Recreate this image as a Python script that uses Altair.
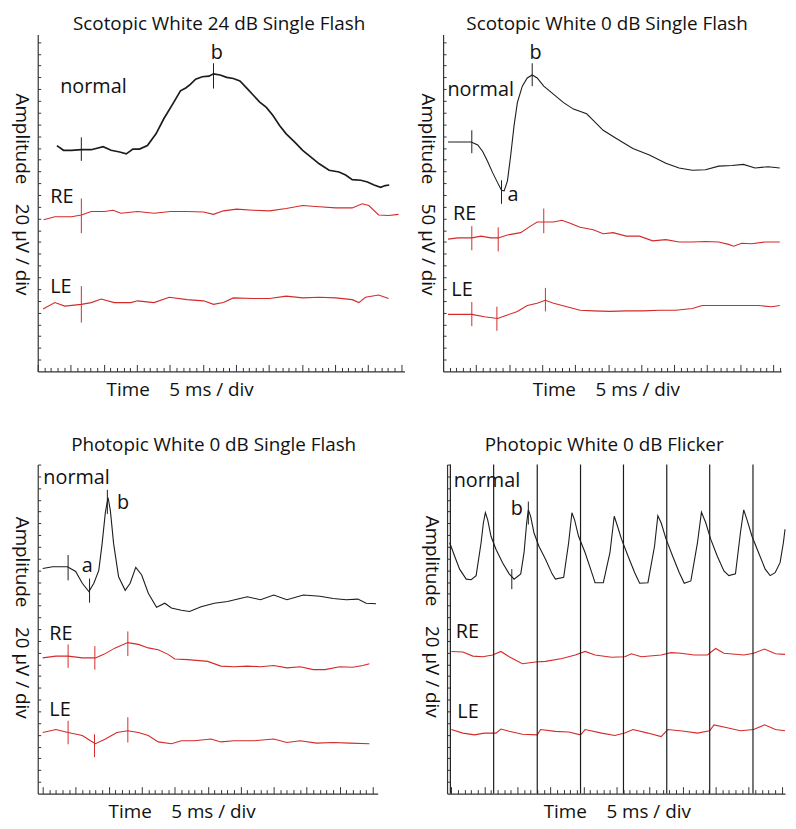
import altair as alt
import pandas as pd

FONT = "Open Sans"
BLACK = "#1c1c1c"
RED = "#d42a2a"
AXIS = "#333333"

# ---------------- Panel 1: Scotopic White 24 dB Single Flash (time ms, amplitude in div units)
P1_NORMAL = [(14.5, 19.2), (19.5, 18.8), (25.5, 18.8), (33, 18.85), (40.5, 18.85), (49.5, 19.1), (55.5, 18.8),
             (62, 18.65), (67, 18.5), (72, 18.9), (77, 18.9), (83, 19.2), (89.5, 20.2), (95.5, 21.5), (102, 22.7),
             (108, 23.85), (112, 24.1), (115.5, 24.4), (119.5, 24.85), (124.5, 25.05), (129.5, 25.1), (133, 25.3),
             (138, 25.2), (143, 25.0), (148, 24.9), (153, 24.7), (158, 24.1), (163, 23.5), (168, 22.9), (173, 22.45),
             (178, 21.75), (183, 20.9), (188, 20.2), (194.5, 19.5), (200.5, 18.8), (207, 18.2), (213, 17.65),
             (220.5, 17.1), (228, 16.95), (233, 16.7), (238, 16.3), (244.5, 16.25), (249.5, 16.1), (254.5, 15.85),
             (259.5, 15.65), (263, 15.8), (266, 15.85)]
P1_RE = [(4.5, 12.9), (13, 13.15), (25.5, 13.15), (33, 13.3), (40.5, 13.6), (50.5, 13.6), (57, 13.7), (63, 13.45),
         (75.5, 13.6), (88, 13.45), (100.5, 13.6), (113, 13.6), (125.5, 13.55), (133, 13.35), (140.5, 13.65),
         (150.5, 13.8), (163, 13.7), (175.5, 13.65), (188, 13.85), (200.5, 14.1), (213, 14.0), (225.5, 13.9),
         (238, 13.9), (245.5, 14.25), (250.5, 14.1), (258, 13.3), (265.5, 13.25), (273, 13.35)]
P1_LE = [(4, 5.3), (13, 5.85), (20.5, 5.55), (33, 5.7), (40.5, 5.85), (48, 6.15), (58, 5.85), (70.5, 5.85),
         (75.5, 6.0), (88, 5.85), (99.5, 6.3), (113, 6.1), (125.5, 6.0), (133, 5.7), (140.5, 5.85), (148, 6.25),
         (163, 6.2), (175.5, 6.2), (188, 6.4), (200.5, 6.25), (213, 6.3), (225.5, 6.25), (238, 6.1), (243, 5.85),
         (248, 6.3), (258, 6.5), (265.5, 6.2)]
P1_MARKS = [("normal", 33, 17.9, 19.9), ("normal", 133, 24.05, 26.2),
            ("RE", 33, 11.75, 14.7), ("LE", 33, 4.15, 7.25)]
P1_LABELS = [("normal", 17, 23.7), ("b", 131, 26.55), ("RE", 9.4, 14.3), ("LE", 9.4, 6.7)]

# ---------------- Panel 2: Scotopic White 0 dB Single Flash
P2_NORMAL = [(3.75, 19.5), (21.25, 19.5), (26.25, 19.25), (30, 18.7), (33.75, 17.85), (37.5, 16.9), (41.25, 16.05),
             (44.25, 15.4), (46.25, 15.35), (48.75, 16.2), (51.25, 18.4), (53.75, 20.9), (56.25, 22.85), (60, 24.25),
             (63.75, 24.95), (67.5, 25.2), (71.25, 24.95), (76.25, 24.25), (83.75, 23.55), (91.25, 22.85),
             (98.75, 22.3), (108.75, 21.9), (113.75, 21.35), (121.25, 20.5), (131.25, 19.8), (143.75, 18.95),
             (156.25, 18.4), (168.75, 17.7), (178.75, 17.3), (188.75, 17.1), (198.75, 17.15), (208.75, 17.45),
             (218.75, 17.5), (227.5, 17.6), (236.25, 17.3), (246.25, 17.4), (255, 17.3)]
P2_RE = [(3.75, 11.25), (11.25, 11.35), (21.75, 11.35), (28.75, 11.5), (36.25, 11.35), (41.75, 11.35), (48.75, 11.6),
         (58.75, 11.8), (66.25, 12.35), (71.25, 12.7), (76.25, 12.7), (83.75, 12.7), (90, 12.85), (96.25, 12.6),
         (103.75, 12.25), (113.75, 12.05), (121.25, 11.7), (128.75, 11.8), (138.75, 11.5), (148.75, 11.5),
         (158.75, 11.1), (168.75, 11.2), (178.75, 11.0), (188.75, 11.0), (198.75, 11.05), (208.75, 11.0),
         (216.25, 10.8), (220, 10.65), (226.25, 10.9), (233.75, 10.85), (243.75, 11.0), (255, 11.0)]
P2_LE = [(3.75, 4.85), (21.75, 4.85), (31.25, 4.65), (41.25, 4.5), (48.75, 4.8), (56.25, 5.1), (63.75, 5.6),
         (71.25, 5.8), (77.5, 6.05), (83.75, 5.8), (93.75, 5.5), (103.75, 5.2), (113.75, 5.15), (126.25, 5.1),
         (138.75, 5.15), (151.25, 5.15), (163.75, 5.2), (176.25, 5.2), (188.75, 5.35), (196.25, 5.6),
         (208.75, 5.6), (226.25, 5.6), (238.75, 5.6), (248.75, 5.5), (255, 5.6)]
P2_MARKS = [("normal", 21.75, 18.55, 20.5), ("normal", 44.25, 14.25, 16.25), ("normal", 67.5, 24.25, 26.2),
            ("RE", 21.75, 10.3, 12.35), ("RE", 41.75, 10.2, 12.25), ("RE", 76.25, 11.75, 13.85),
            ("LE", 21.75, 3.85, 5.9), ("LE", 40.75, 3.45, 5.5), ("LE", 77.5, 5.1, 7.1)]
P2_LABELS = [("normal", 3.25, 23.4), ("a", 48.75, 14.5), ("b", 65.5, 26.55), ("RE", 7.5, 12.85), ("LE", 6.25, 6.45)]

# ---------------- Panel 3: Photopic White 0 dB Single Flash
P3_NORMAL = [(0, 19.15), (7.5, 19.3), (18.75, 19.3), (25, 18.9), (30, 17.9), (35, 17.2), (38.75, 17.9), (42.5, 19.0),
             (45, 21.25), (47.5, 23.95), (49.5, 25.2), (51.25, 24.1), (53.75, 21.25), (57.5, 18.45), (62.5, 17.3),
             (66.25, 17.9), (70.5, 19.25), (75, 18.6), (80, 17.05), (86.25, 15.85), (92.5, 16.2), (97.5, 15.8),
             (105, 15.6), (111.25, 15.5), (120, 15.9), (130, 16.2), (140, 16.35), (155, 16.75), (165, 16.5),
             (175, 16.9), (185, 16.5), (197.5, 16.9), (210, 16.8), (220, 16.6), (230, 16.5), (238.75, 16.55),
             (245, 16.2), (252.5, 16.15)]
P3_RE = [(0, 11.55), (10, 11.7), (19.25, 11.7), (30, 11.55), (40, 11.55), (46.25, 11.85), (55, 12.4), (64.5, 12.85),
         (72.5, 12.7), (80, 12.4), (87.5, 12.25), (95, 11.85), (100, 11.45), (110, 11.4), (125, 11.25), (135, 10.85),
         (145, 10.8), (155, 10.85), (165, 10.8), (175, 10.9), (185, 10.7), (195, 10.8), (205, 10.55), (213.75, 10.55),
         (225, 10.8), (235, 10.75), (242.5, 10.9), (247.5, 11.05)]
P3_LE = [(0, 5.2), (10, 5.45), (19.25, 5.2), (30, 4.95), (36.25, 4.5), (40, 4.25), (47.5, 4.65), (56.25, 5.2),
         (64.5, 5.35), (72.5, 5.2), (80, 4.95), (87.5, 4.4), (97.5, 4.25), (105, 4.5), (115, 4.5), (127.5, 4.65),
         (135, 4.4), (145, 4.5), (160, 4.5), (175, 4.65), (185, 4.35), (195, 4.5), (207.5, 4.3), (220, 4.35),
         (232.5, 4.3), (247.5, 4.25)]
P3_MARKS = [("normal", 19.25, 18.15, 20.3), ("normal", 35.5, 16.25, 18.3), ("normal", 49, 23.8, 25.85),
            ("RE", 19.25, 10.7, 12.7), ("RE", 39.5, 10.55, 12.55), ("RE", 64.5, 11.7, 13.8),
            ("LE", 19.25, 4.2, 6.2), ("LE", 39.25, 3.1, 5.05), ("LE", 64.5, 4.35, 6.5)]
P3_LABELS = [("normal", 0.5, 26.35), ("a", 29.5, 18.9), ("b", 56.25, 24.2), ("RE", 5, 13.1), ("LE", 5, 6.6)]

# ---------------- Panel 4: Photopic White 0 dB Flicker
P4_NORMAL = [(-1.25, 21.35), (2.5, 20.2), (6.25, 19.1), (11.25, 18.25), (15, 18.2), (18.75, 18.55), (22.5, 21.35),
             (24.25, 23.05), (25.75, 23.9), (27.5, 23.3), (30, 21.9), (33.75, 20.8), (38.75, 19.65), (43.75, 18.7),
             (47.5, 18.25), (52.5, 18.7), (55, 20.5), (57, 23.05), (58.25, 24.15), (60, 23.6), (62.5, 22.2),
             (66.25, 21.05), (71.25, 19.95), (76.25, 18.7), (78.75, 18.25), (85, 18.4), (88.75, 21.35),
             (91.25, 23.9), (93.25, 23.3), (96.25, 21.9), (101.25, 20.5), (106.25, 18.8), (108.75, 17.95),
             (115, 17.95), (120, 20.5), (123.25, 23.6), (125.75, 22.75), (128.75, 21.65), (133.75, 20.2),
             (138.75, 18.8), (142.5, 17.9), (148.75, 17.95), (153.75, 21.05), (156.25, 23.65), (158.75, 23.05),
             (162.5, 21.65), (167.5, 20.2), (172.5, 18.8), (176.25, 17.9), (181.25, 18.1), (186.25, 21.35),
             (189.25, 23.95), (192.5, 23.05), (196.25, 21.65), (201.25, 20.2), (206.25, 18.95), (210, 18.55),
             (215, 18.7), (218.75, 22.2), (221.25, 24.15), (223.75, 23.3), (227.5, 21.9), (232.5, 20.5),
             (237.5, 19.1), (241.25, 18.55), (245, 18.8), (248.75, 19.65), (251.25, 21.35), (252.5, 22.5)]
P4_RE = [(0, 12.1), (8.75, 12.05), (16.25, 11.7), (23.75, 11.65), (31.25, 11.8), (37.5, 12.1), (43.75, 11.65),
         (53.75, 11.05), (63.75, 11.2), (71.25, 11.25), (83.75, 11.5), (93.75, 11.8), (101.25, 12.1), (108.75, 11.8),
         (121.25, 11.6), (131.25, 11.65), (136.25, 11.9), (143.75, 11.65), (158.75, 11.8), (166.25, 12.0),
         (173.75, 11.95), (183.75, 11.8), (193.75, 11.8), (200, 12.35), (206.25, 11.95), (221.25, 11.8),
         (228.75, 11.95), (237, 12.3), (245.25, 11.9), (252.5, 11.85)]
P4_LE = [(0, 5.45), (8.75, 5.15), (17.5, 5.0), (25, 5.15), (33.75, 5.15), (37.5, 5.5), (43.75, 5.3), (53.75, 5.05),
         (65, 5.0), (67.5, 5.45), (78.75, 5.3), (88.75, 5.25), (97.75, 5.0), (101.25, 5.45), (113.75, 5.15),
         (123.75, 4.95), (131.25, 5.15), (137.5, 5.45), (148.75, 5.15), (158.75, 4.85), (163.75, 5.45),
         (176.25, 5.3), (186.25, 5.15), (195.5, 5.35), (198.75, 5.85), (208.75, 5.6), (218.75, 5.35),
         (228.75, 5.45), (237, 5.85), (245.25, 5.45), (252.5, 5.35)]
P4_MARKS = [("normal", 58.25, 22.9, 24.85), ("normal", 45.75, 17.4, 19.1)]
P4_LABELS = [("normal", 1.75, 26.1), ("b", 45, 23.75), ("RE", 3.25, 13.2), ("LE", 4.5, 6.4)]
P4_STIM = [-0.75, 32, 65, 97.75, 130.25, 163, 195.5, 228.25]

NBSP = "\u00a0"
X_TITLE = "Time" + NBSP * 4 + "5 ms / div"


def y_title(uv):
    return "Amplitude" + NBSP * 4 + f"{uv} µV / div"


def panel(title, title_dx, title_offset, normal, re_, le, marks, labels, stim, xdom, ydom, W, H,
          ytitle, ytitle_y, xtitle_x, normal_width):
    xs = alt.Scale(domain=xdom, nice=False, zero=False)
    ys = alt.Scale(domain=ydom, nice=False, zero=False)
    xticks = list(range(0, int(xdom[1]) + 1, 5))
    yticks = list(range(1, int(ydom[1]) + 1))
    xaxis = alt.Axis(orient="top", offset=-H, labels=False, grid=False, values=xticks,
                     tickSize={"condition": {"test": "datum.value % 25 === 0", "value": 7}, "value": 4},
                     tickColor=AXIS, domainColor=AXIS, tickWidth=1, domainWidth=1.2,
                     title=X_TITLE, titleFont=FONT, titleFontSize=19, titleFontWeight="normal",
                     titleColor="#111111", titleX=xtitle_x, titleY=24, titleAlign="left",
                     titleBaseline="alphabetic", titleAngle=0)
    yaxis = alt.Axis(orient="right", offset=-W, labels=False, grid=False, values=yticks,
                     tickSize=3, tickColor=AXIS, domainColor=AXIS, tickWidth=1, domainWidth=1.2,
                     title=ytitle, titleFont=FONT, titleFontSize=19, titleFontWeight="normal",
                     titleColor="#111111", titleX=-16, titleY=ytitle_y, titleAngle=90,
                     titleAlign="center", titleBaseline="middle")

    X = alt.X("t:Q", scale=xs, axis=xaxis)
    Y = alt.Y("v:Q", scale=ys, axis=yaxis)

    df_n = pd.DataFrame(normal, columns=["t", "v"])
    df_e = pd.concat([pd.DataFrame(re_, columns=["t", "v"]).assign(trace="RE"),
                      pd.DataFrame(le, columns=["t", "v"]).assign(trace="LE")])
    df_m = pd.DataFrame(marks, columns=["trace", "t", "v", "v2"])
    df_l = pd.DataFrame(labels, columns=["label", "t", "v"])

    color = alt.Color("trace:N", scale=alt.Scale(domain=["normal", "RE", "LE"],
                                                 range=[BLACK, RED, RED]), legend=None)

    base_n = alt.Chart(df_n).mark_line(color=BLACK, strokeWidth=normal_width).encode(x=X, y=Y)
    eyes = alt.Chart(df_e).mark_line(strokeWidth=1.1).encode(x=X, y=Y, color=color, detail="trace:N")
    marks_l = alt.Chart(df_m).mark_rule(strokeWidth=1).encode(x=X, y=Y, y2="v2:Q", color=color)
    texts = alt.Chart(df_l).mark_text(align="left", baseline="alphabetic", font=FONT, fontSize=20,
                                      color="#111111").encode(x=X, y=Y, text="label:N")
    layers = [base_n, eyes, marks_l, texts]
    if stim:
        df_s = pd.DataFrame({"t": stim})
        layers.append(alt.Chart(df_s).mark_rule(color=BLACK, strokeWidth=1.2).encode(x=X))
    return alt.layer(*layers).properties(
        width=W, height=H,
        title=alt.TitleParams(title, font=FONT, fontSize=19, fontWeight="normal", color="#111111",
                              anchor="middle", dx=title_dx, offset=title_offset),
    )


p1 = panel("Scotopic White 24 dB Single Flash", -2, 0, P1_NORMAL, P1_RE, P1_LE, P1_MARKS, P1_LABELS, None,
           [0, 277.5], [0, 28.65], 370, 340, y_title(20), 161, 69, 1.7)
p2 = panel("Scotopic White 0 dB Single Flash", -5, 0, P2_NORMAL, P2_RE, P2_LE, P2_MARKS, P2_LABELS, None,
           [0, 256], [0, 28.65], 341, 340, y_title(50), 161, 90, 1.1)
p3 = panel("Photopic White 0 dB Single Flash", 6, 9, P3_NORMAL, P3_RE, P3_LE, P3_MARKS, P3_LABELS, None,
           [-3.75, 253.75], [0, 28.0], 343, 332, y_title(20), 154, 71, 1.1)
p4 = panel("Photopic White 0 dB Flicker", -12, 9, P4_NORMAL, P4_RE, P4_LE, P4_MARKS, P4_LABELS, P4_STIM,
           [-3.25, 252.5], [0, 28.0], 341, 332, y_title(20), 153, 97, 1.1)

chart = alt.vconcat(
    alt.hconcat(p1, p2, spacing=13),
    alt.hconcat(p3, p4, spacing=43),
    spacing=37,
).properties(padding={"top": 4, "left": 4, "right": 0, "bottom": 0},
             background="white").configure_view(strokeWidth=0)

chart.save("out.html", embed_options={"renderer": "svg", "actions": False})
